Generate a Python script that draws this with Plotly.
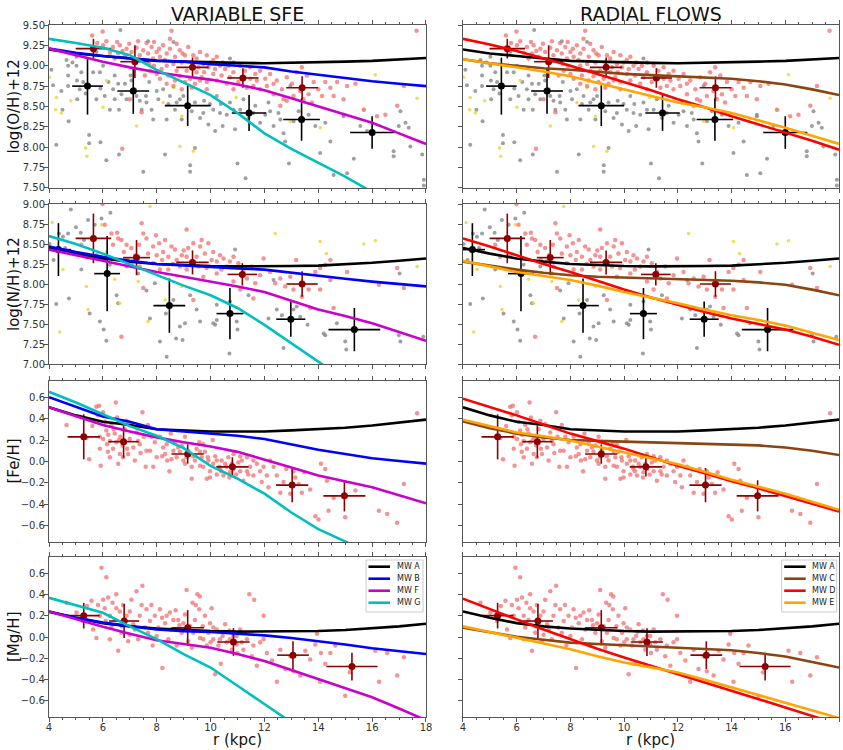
import plotly.graph_objects as go

# ---------------- model radii ----------------
R_MODEL = [4, 5, 6, 7, 8, 9, 10, 11, 12, 13, 14, 15, 16, 17, 18]
R_G_OH = [4, 5, 6, 7, 8, 9, 10, 11, 12, 13, 14, 15, 16]
R_G_NH = [4, 5, 6, 7, 8, 9, 10, 11, 12, 13, 14, 15]
R_G_FE = [4, 5, 6, 7, 8, 9, 10, 11, 12, 13, 14, 15, 16]
R_G_MG = [4, 5, 6, 7, 8, 9, 10, 11, 12, 13]

# ---------------- O/H models ----------------
oh_A = [9.20, 9.15, 9.12, 9.09, 9.06, 9.05, 9.04, 9.035, 9.03, 9.035, 9.045, 9.05, 9.06, 9.08, 9.095]
oh_B = [9.21, 9.16, 9.12, 9.09, 9.065, 9.05, 9.02, 9.00, 8.98, 8.93, 8.89, 8.85, 8.81, 8.78, 8.75]
oh_F = [9.21, 9.13, 9.05, 8.98, 8.92, 8.87, 8.83, 8.77, 8.70, 8.60, 8.50, 8.40, 8.30, 8.17, 8.04]
oh_G = [9.33, 9.28, 9.22, 9.13, 8.95, 8.80, 8.64, 8.42, 8.17, 7.98, 7.81, 7.64, 7.45]
oh_C = [9.08, 9.03, 9.00, 8.97, 8.95, 8.925, 8.90, 8.885, 8.87, 8.855, 8.84, 8.81, 8.77, 8.71, 8.64]
oh_D = [9.33, 9.26, 9.18, 9.09, 9.00, 8.90, 8.80, 8.70, 8.59, 8.49, 8.38, 8.28, 8.18, 8.08, 7.97]
oh_E = [9.08, 9.03, 8.98, 8.93, 8.87, 8.79, 8.71, 8.63, 8.55, 8.49, 8.42, 8.33, 8.24, 8.14, 8.04]

# ---------------- N/H models ----------------
nh_A = [8.45, 8.38, 8.32, 8.28, 8.25, 8.235, 8.225, 8.22, 8.22, 8.225, 8.23, 8.245, 8.265, 8.29, 8.32]
nh_B = [8.47, 8.40, 8.34, 8.29, 8.25, 8.23, 8.21, 8.195, 8.18, 8.14, 8.10, 8.065, 8.03, 8.00, 7.97]
nh_F = [8.43, 8.36, 8.29, 8.22, 8.15, 8.09, 8.03, 7.97, 7.90, 7.79, 7.68, 7.60, 7.51, 7.40, 7.29]
nh_G = [8.60, 8.50, 8.38, 8.25, 8.11, 7.98, 7.86, 7.70, 7.49, 7.26, 7.03, 6.80]
nh_C = [8.28, 8.23, 8.18, 8.14, 8.11, 8.09, 8.08, 8.07, 8.06, 8.05, 8.04, 8.02, 7.99, 7.93, 7.86]
nh_D = [8.57, 8.47, 8.36, 8.25, 8.15, 8.04, 7.93, 7.83, 7.74, 7.65, 7.57, 7.50, 7.43, 7.34, 7.24]
nh_E = [8.29, 8.22, 8.15, 8.10, 8.05, 7.98, 7.90, 7.83, 7.76, 7.68, 7.61, 7.55, 7.48, 7.39, 7.30]

# ---------------- Fe/H models ----------------
fe_A = [0.505, 0.43, 0.37, 0.34, 0.30, 0.29, 0.28, 0.28, 0.28, 0.29, 0.30, 0.315, 0.335, 0.36, 0.39]
fe_B = [0.60, 0.51, 0.42, 0.37, 0.30, 0.28, 0.26, 0.24, 0.21, 0.16, 0.11, 0.07, 0.03, 0.005, -0.02]
fe_F = [0.505, 0.42, 0.34, 0.28, 0.225, 0.18, 0.14, 0.09, 0.02, -0.055, -0.13, -0.185, -0.24, -0.315, -0.39]
fe_G = [0.65, 0.55, 0.44, 0.33, 0.24, 0.125, -0.04, -0.16, -0.30, -0.475, -0.63, -0.75, -0.86]
fe_C = [0.375, 0.31, 0.26, 0.225, 0.20, 0.19, 0.185, 0.178, 0.17, 0.165, 0.16, 0.15, 0.13, 0.10, 0.06]
fe_D = [0.585, 0.51, 0.43, 0.345, 0.26, 0.19, 0.12, 0.04, -0.04, -0.11, -0.185, -0.25, -0.32, -0.39, -0.465]
fe_E = [0.39, 0.33, 0.27, 0.235, 0.195, 0.14, 0.085, 0.03, -0.025, -0.095, -0.17, -0.235, -0.30, -0.375, -0.45]

# ---------------- Mg/H models ----------------
mg_A = [0.24, 0.18, 0.13, 0.10, 0.08, 0.065, 0.056, 0.05, 0.05, 0.052, 0.056, 0.066, 0.08, 0.10, 0.125]
mg_B = [0.235, 0.18, 0.135, 0.10, 0.07, 0.055, 0.047, 0.03, 0.015, -0.01, -0.037, -0.07, -0.105, -0.135, -0.16]
mg_F = [0.24, 0.165, 0.095, 0.03, -0.03, -0.065, -0.10, -0.16, -0.225, -0.31, -0.395, -0.48, -0.565, -0.67, -0.78]
mg_G = [0.367, 0.30, 0.227, 0.10, -0.02, -0.16, -0.286, -0.457, -0.628, -0.80]
mg_C = [0.087, 0.045, 0.003, -0.025, -0.053, -0.065, -0.078, -0.09, -0.10, -0.112, -0.124, -0.15, -0.183, -0.235, -0.286]
mg_D = [0.36, 0.26, 0.165, 0.07, -0.022, -0.11, -0.193, -0.27, -0.348, -0.426, -0.504, -0.582, -0.66, -0.74, -0.82]
mg_E = [0.10, 0.047, -0.006, -0.06, -0.115, -0.18, -0.24, -0.285, -0.333, -0.40, -0.473, -0.54, -0.613, -0.685, -0.76]

# ---------------- binned data (stars: dark red, HII: black) ----------------
oh_bin_star_r = [5.65, 7.19, 9.33, 11.2, 13.4]
oh_bin_star_v = [9.21, 9.05, 8.98, 8.85, 8.73]
oh_bin_star_ex = [0.66, 0.54, 0.60, 0.58, 0.59]
oh_bin_star_ey = [0.12, 0.20, 0.12, 0.12, 0.14]
oh_bin_hii_r = [5.43, 7.13, 9.15, 11.43, 13.38, 16.0]
oh_bin_hii_v = [8.75, 8.69, 8.51, 8.42, 8.34, 8.18]
oh_bin_hii_ex = [0.57, 0.59, 0.85, 0.64, 0.68, 0.82]
oh_bin_hii_ey = [0.35, 0.28, 0.25, 0.22, 0.26, 0.20]

nh_bin_star_r = [5.65, 7.25, 9.33, 11.18, 13.4]
nh_bin_star_v = [8.57, 8.33, 8.27, 8.12, 8.00]
nh_bin_star_ex = [0.66, 0.50, 0.60, 0.55, 0.58]
nh_bin_star_ey = [0.31, 0.22, 0.15, 0.14, 0.16]
nh_bin_hii_r = [4.35, 6.16, 8.47, 10.72, 12.98, 15.34]
nh_bin_hii_v = [8.43, 8.13, 7.73, 7.63, 7.56, 7.43]
nh_bin_hii_ex = [0.47, 0.48, 0.59, 0.50, 0.54, 0.96]
nh_bin_hii_ey = [0.33, 0.47, 0.34, 0.32, 0.22, 0.27]

fe_bin_r = [5.29, 6.77, 9.15, 10.81, 13.03, 14.97]
fe_bin_v = [0.23, 0.185, 0.07, -0.05, -0.22, -0.32]
fe_bin_ex = [0.60, 0.56, 0.60, 0.60, 0.60, 0.78]
fe_bin_ey = [0.21, 0.15, 0.09, 0.09, 0.16, 0.145]

mg_bin_r = [5.29, 6.79, 9.15, 10.85, 13.06, 15.25]
mg_bin_v = [0.20, 0.15, 0.087, -0.047, -0.17, -0.277]
mg_bin_ex = [0.59, 0.56, 0.60, 0.60, 0.59, 0.95]
mg_bin_ey = [0.12, 0.16, 0.165, 0.13, 0.13, 0.13]

# ---------------- individual data points (r, value) ----------------
oh_stars = [
    (5.60, 9.37), (5.99, 9.42), (6.13, 9.30), (5.79, 9.28), (6.01, 9.25), (6.38, 9.23), (6.53, 9.29),
    (6.73, 9.18), (6.57, 9.15), (6.88, 9.21), (7.06, 9.17), (7.25, 9.22), (7.37, 9.13), (6.82, 9.11),
    (6.44, 9.09), (6.26, 9.16), (7.62, 9.28), (7.81, 9.23), (8.00, 9.17), (7.68, 9.15), (7.50, 9.07),
    (7.87, 9.09), (8.12, 9.11), (8.37, 9.15), (8.55, 9.43), (8.24, 9.25), (8.49, 9.21), (8.68, 9.11),
    (8.86, 9.19), (9.05, 9.13), (8.93, 9.04), (8.62, 9.02), (8.37, 9.00), (8.18, 8.96), (8.00, 8.90),
    (7.75, 8.94), (7.56, 8.88), (8.12, 8.84), (8.43, 8.88), (8.74, 8.94), (9.11, 8.94), (9.30, 9.04),
    (9.48, 9.09), (9.61, 9.17), (9.86, 9.13), (9.73, 9.02), (9.92, 8.98), (10.10, 9.07), (10.23, 9.11),
    (10.35, 9.00), (9.48, 8.92), (9.67, 8.86), (9.86, 8.80), (10.10, 8.90), (10.23, 8.82), (10.41, 8.88),
    (10.54, 8.96), (10.72, 8.86), (10.85, 8.92), (10.60, 8.78), (9.24, 8.84), (9.05, 8.80), (8.86, 8.87),
    (8.62, 8.75), (8.37, 8.78), (9.42, 8.78), (9.86, 8.71), (11.10, 9.00), (11.28, 8.94), (11.47, 8.98),
    (11.66, 8.90), (11.84, 8.94), (12.03, 8.84), (12.21, 8.90), (12.46, 8.82), (11.03, 8.80), (11.35, 8.73),
    (11.59, 8.75), (11.84, 8.71), (12.09, 8.75), (12.34, 8.65), (12.65, 8.71), (12.83, 8.86), (13.02, 8.78),
    (13.20, 8.92), (13.39, 8.98), (13.58, 8.88), (13.83, 8.80), (14.00, 8.71), (14.14, 8.63), (13.08, 8.63),
    (13.45, 8.59), (13.76, 8.55), (12.83, 8.57), (12.59, 8.51), (14.26, 8.80), (14.45, 8.73), (14.70, 8.80),
    (15.07, 8.75), (15.38, 8.78), (14.94, 8.59), (15.69, 8.46), (16.18, 8.38), (16.49, 8.40), (16.93, 8.51),
    (17.18, 8.75), (17.65, 9.43), (7.44, 8.43), (6.72, 7.98), (7.00, 8.59), (10.85, 9.04), (14.57, 8.63),
    (6.63, 9.25), (6.98, 9.27), (7.31, 9.30), (7.50, 9.19), (7.90, 9.29), (8.09, 9.21), (8.30, 9.07),
    (8.49, 9.33), (8.74, 9.27), (8.96, 9.15), (9.17, 9.23), (9.36, 9.13), (9.55, 8.98), (9.76, 8.92),
    (9.98, 9.04), (10.17, 8.96), (10.45, 9.04), (10.66, 9.00), (7.90, 9.00), (7.72, 9.02), (8.68, 8.82),
    (8.93, 8.71), (9.61, 8.82), (9.30, 8.73), (10.85, 8.71), (11.16, 8.84), (11.47, 8.84), (11.72, 8.82),
    (12.34, 8.78), (12.71, 8.59), (13.33, 8.69), (13.64, 8.65),
]
oh_hii = [
    (4.09, 8.95), (4.15, 8.76), (4.27, 8.03), (4.46, 8.69), (4.50, 8.46), (4.65, 9.07), (4.71, 9.00),
    (4.71, 8.88), (4.71, 8.75), (4.73, 8.32), (4.87, 9.04), (5.02, 9.00), (5.04, 8.82), (5.05, 8.59),
    (5.20, 8.92), (5.27, 8.80), (5.36, 8.66), (5.49, 8.15), (5.49, 8.05), (5.76, 9.17), (5.89, 8.92),
    (5.91, 8.72), (5.91, 8.06), (6.01, 9.00), (6.13, 7.84), (6.21, 8.80), (6.26, 8.46), (6.44, 8.88),
    (6.44, 8.59), (6.57, 8.78), (6.60, 8.46), (6.60, 7.91), (6.65, 9.44), (6.82, 8.78), (6.88, 8.59),
    (7.03, 8.88), (7.19, 8.71), (7.37, 8.57), (7.44, 8.46), (7.50, 7.70), (7.60, 8.63), (7.68, 9.30),
    (7.72, 8.80), (7.81, 8.46), (7.87, 8.34), (8.06, 8.59), (8.24, 8.71), (8.31, 7.91), (8.37, 8.34),
    (8.49, 8.63), (8.62, 9.29), (8.68, 8.46), (8.74, 8.55), (8.93, 8.34), (8.99, 8.63), (9.24, 7.78),
    (9.24, 7.70), (9.42, 8.55), (9.42, 7.99), (9.61, 8.36), (9.76, 8.57), (9.92, 8.28), (10.10, 8.46),
    (10.23, 8.63), (10.38, 8.53), (10.45, 8.26), (10.60, 8.40), (10.72, 9.09), (10.85, 8.46), (10.91, 8.22),
    (11.00, 7.80), (11.22, 8.59), (11.30, 7.62), (11.41, 8.36), (11.66, 8.51), (11.84, 8.30), (12.03, 8.40),
    (12.15, 8.55), (12.34, 8.26), (12.52, 8.42), (12.71, 8.17), (12.77, 8.07), (12.91, 7.80), (13.08, 8.32),
    (13.27, 8.44), (13.64, 8.40), (13.89, 8.26), (14.07, 7.93), (14.26, 8.30), (14.45, 8.07), (14.57, 7.66),
    (14.94, 8.38), (15.07, 7.68), (15.32, 7.86), (15.56, 8.26), (15.81, 8.20), (16.80, 7.95), (16.80, 7.89),
    (16.99, 8.26), (17.05, 8.44), (17.24, 8.30), (17.42, 8.01), (17.86, 7.91), (17.92, 7.60), (17.92, 7.53),
    (17.36, 8.24), (12.96, 8.75), (14.94, 8.40), (5.02, 9.11), (5.14, 8.71), (5.64, 8.92), (5.76, 8.59),
    (6.07, 8.63), (6.38, 8.71), (6.69, 8.65), (7.06, 8.82), (7.25, 8.63), (7.62, 8.55), (8.00, 8.69),
    (8.43, 8.53), (8.86, 8.59), (9.30, 8.44), (9.73, 8.42), (9.98, 8.53), (10.35, 8.42), (10.72, 8.55),
    (11.10, 8.46), (11.59, 8.42), (12.21, 8.44), (12.59, 8.34), (10.17, 8.20),
]
oh_other = [
    (4.02, 8.86), (4.27, 8.61), (4.25, 8.46), (4.46, 8.42), (4.81, 8.57), (5.36, 7.99), (5.41, 7.89),
    (6.01, 8.49), (6.13, 8.82), (7.25, 8.26), (8.62, 8.73), (8.86, 8.01), (8.93, 8.38), (9.36, 7.95),
    (10.95, 8.61), (12.96, 8.32), (14.07, 8.24), (15.69, 8.46), (16.12, 8.89), (17.67, 8.60), (8.24, 8.55),
]

nh_stars = [
    (5.99, 9.00), (6.07, 8.74), (6.32, 8.63), (6.53, 8.64), (6.57, 8.57), (6.38, 8.49), (6.69, 8.55),
    (6.88, 8.49), (6.78, 8.40), (7.06, 8.45), (7.44, 8.76), (7.50, 8.63), (7.35, 8.49), (7.62, 8.57),
    (7.68, 8.38), (7.87, 8.47), (7.97, 8.61), (8.09, 8.51), (8.24, 8.40), (8.31, 8.55), (8.43, 8.34),
    (8.55, 8.47), (8.68, 8.43), (8.74, 8.30), (8.93, 8.36), (9.11, 8.68), (9.11, 8.34), (9.17, 8.45),
    (9.36, 8.51), (9.48, 8.34), (9.61, 8.47), (9.67, 8.55), (9.79, 8.38), (9.92, 8.51), (10.04, 8.30),
    (10.10, 8.40), (10.23, 8.28), (10.35, 8.36), (10.48, 8.32), (10.60, 8.22), (10.72, 8.28), (10.85, 8.34),
    (11.03, 8.26), (11.22, 8.15), (11.35, 8.07), (11.53, 8.22), (11.66, 8.01), (11.84, 8.11), (11.97, 8.32),
    (12.21, 8.15), (12.40, 8.01), (12.59, 8.07), (12.77, 7.97), (12.96, 8.09), (13.18, 8.30), (13.08, 7.93),
    (13.39, 7.84), (13.64, 7.93), (13.70, 7.70), (13.89, 8.15), (14.07, 8.20), (14.26, 8.24), (14.45, 8.30),
    (14.45, 8.05), (14.07, 7.93), (14.57, 7.70), (15.07, 8.15), (16.93, 8.20), (17.18, 7.95), (16.25, 7.99),
    (6.69, 7.34), (5.76, 8.36), (5.39, 8.34), (5.20, 8.49), (7.50, 7.95), (7.87, 8.26), (8.12, 8.18),
    (8.86, 8.22), (9.36, 7.80), (9.73, 8.09), (10.23, 8.13), (10.85, 8.03), (11.10, 7.93), (11.59, 7.82),
    (9.11, 8.18), (9.55, 8.22), (7.10, 8.28), (7.37, 8.22), (8.43, 8.18), (8.00, 8.36), (8.60, 8.25),
    (9.00, 8.42), (9.30, 8.28), (9.85, 8.20), (10.40, 8.18), (7.20, 8.36), (6.90, 8.30), (8.20, 8.30),
]
nh_hii = [
    (4.02, 8.50), (4.17, 8.30), (4.27, 7.75), (4.37, 8.63), (4.52, 8.59), (4.71, 8.63), (4.81, 8.93),
    (4.74, 7.82), (5.00, 8.71), (5.18, 8.64), (5.20, 8.18), (5.45, 8.80), (5.51, 7.63), (5.70, 8.74),
    (5.89, 7.53), (5.95, 8.82), (6.03, 7.43), (6.13, 7.29), (6.28, 8.89), (6.26, 8.24), (6.51, 7.86),
    (6.57, 7.76), (6.88, 8.22), (7.31, 8.13), (7.62, 7.92), (7.75, 7.57), (7.93, 8.01), (8.34, 7.63),
    (8.37, 7.09), (8.62, 7.80), (8.72, 7.32), (8.86, 7.47), (8.96, 7.30), (9.05, 7.51), (9.24, 7.86),
    (9.48, 7.68), (10.10, 7.51), (10.17, 7.49), (10.23, 7.55), (10.23, 7.74), (10.70, 7.13), (10.91, 8.43),
    (10.97, 7.53), (11.00, 7.43), (11.41, 7.86), (12.15, 7.57), (12.34, 8.05), (12.46, 7.68), (12.65, 7.61),
    (12.71, 7.20), (13.08, 7.68), (13.20, 7.72), (13.33, 7.59), (13.60, 7.49), (14.20, 7.38), (14.26, 7.36),
    (15.00, 7.28), (15.04, 7.18), (14.69, 7.51), (16.99, 7.36), (17.05, 7.28), (17.02, 8.13), (17.90, 7.34),
    (8.12, 7.28), (10.72, 7.78), (9.61, 7.53), (4.60, 8.45), (5.30, 8.55),
]
nh_other = [
    (4.12, 8.77), (4.40, 7.40), (4.52, 8.18), (5.39, 7.97), (5.45, 7.68), (5.95, 8.74), (6.13, 8.40),
    (6.44, 8.06), (6.63, 7.76), (7.31, 8.03), (7.68, 7.53), (7.75, 8.97), (8.31, 7.80), (12.40, 8.63),
    (14.07, 8.53), (15.69, 8.50), (16.12, 8.54), (14.30, 8.38), (17.67, 8.22), (8.93, 7.97),
]

fe_stars = [
    (4.65, 0.34), (5.39, 0.22), (5.49, 0.02), (5.61, 0.33), (5.76, 0.51), (5.86, 0.52), (5.82, 0.43),
    (5.89, 0.23), (5.92, -0.04), (6.01, 0.46), (6.07, 0.37), (6.13, 0.29), (6.16, 0.16), (6.26, 0.19),
    (6.32, 0.34), (6.26, 0.04), (6.38, 0.12), (6.44, 0.26), (6.48, 0.55), (6.53, 0.41), (6.57, -0.02),
    (6.63, 0.07), (6.65, 0.23), (6.73, 0.15), (6.82, 0.30), (6.88, 0.38), (6.94, 0.07), (7.00, 0.21),
    (7.06, 0.35), (7.13, 0.13), (7.19, 0.01), (7.25, 0.27), (7.37, 0.16), (7.47, 0.46), (7.52, 0.23),
    (7.59, -0.05), (7.68, 0.34), (7.75, 0.10), (7.87, -0.05), (7.93, 0.18), (8.00, 0.04), (8.12, 0.23),
    (8.24, 0.13), (8.31, 0.07), (8.39, 0.01), (8.47, -0.09), (8.52, 0.26), (8.62, 0.10), (8.68, 0.18),
    (8.74, 0.04), (8.86, 0.09), (8.93, 0.15), (8.99, 0.01), (9.05, 0.23), (9.11, 0.04), (9.17, 0.10),
    (9.30, -0.16), (9.36, 0.05), (9.42, 0.01), (9.48, 0.12), (9.58, 0.18), (9.67, 0.04), (9.73, -0.05),
    (9.79, 0.09), (9.86, -0.16), (9.92, 0.01), (9.98, -0.09), (10.08, 0.20), (10.10, -0.02), (10.17, 0.05),
    (10.23, -0.12), (10.33, -0.05), (10.41, 0.01), (10.48, -0.13), (10.60, -0.05), (10.66, 0.04),
    (10.72, -0.10), (10.85, 0.07), (10.95, -0.12), (11.03, -0.01), (11.10, -0.09), (11.22, -0.18),
    (11.35, 0.04), (11.47, -0.05), (11.59, 0.01), (11.72, -0.02), (11.84, -0.09), (11.90, -0.19),
    (12.09, -0.13), (12.15, -0.24), (12.21, 0.01), (12.46, -0.13), (12.59, -0.29), (12.71, -0.19),
    (12.81, -0.07), (12.96, -0.30), (13.14, -0.15), (13.27, -0.21), (13.39, -0.29), (13.48, -0.10),
    (13.70, -0.26), (13.89, -0.51), (14.01, -0.54), (14.10, -0.02), (14.26, -0.07), (14.32, -0.18),
    (14.38, -0.46), (14.57, -0.34), (15.00, -0.52), (15.38, -0.27), (16.25, -0.46), (16.56, -0.49),
    (16.93, -0.57), (17.18, -0.21), (17.67, 0.45), (9.30, -0.05), (9.61, -0.04), (9.98, -0.15),
    (10.35, -0.07), (10.79, -0.02), (11.16, 0.01), (11.35, -0.09), (5.89, 0.12), (6.01, 0.21),
    (6.19, 0.09), (6.50, 0.18), (6.75, 0.04), (7.31, 0.19), (7.62, 0.10), (7.81, 0.23), (8.37, 0.16),
    (8.80, 0.13), (9.05, -0.02), (9.61, 0.09), (9.73, 0.16), (10.23, 0.01), (10.54, -0.02), (10.85, -0.07),
    (11.10, 0.05), (11.59, -0.13), (11.97, -0.05), (12.34, -0.05), (13.08, -0.09), (6.20, 0.25),
    (6.40, 0.30), (6.60, 0.20), (6.90, 0.12), (7.40, 0.08), (8.20, 0.05), (8.55, 0.02), (9.20, 0.06),
    (9.90, 0.04), (10.40, -0.09), (10.70, -0.15), (11.40, -0.12),
]
mg_stars = [
    (4.65, 0.32), (5.02, 0.23), (5.41, 0.29), (5.58, 0.34), (5.82, 0.30), (5.89, 0.20), (5.95, 0.65),
    (6.01, 0.35), (6.07, 0.27), (6.13, 0.56), (6.20, 0.37), (6.26, 0.20), (6.32, 0.09), (6.36, 0.32),
    (6.44, 0.16), (6.50, 0.40), (6.57, -0.13), (6.63, 0.24), (6.69, 0.04), (6.75, 0.30), (6.85, 0.15),
    (6.94, -0.04), (7.00, 0.24), (7.06, 0.35), (7.13, 0.12), (7.25, 0.43), (7.31, -0.02), (7.37, 0.20),
    (7.44, 0.30), (7.47, 0.48), (7.56, 0.09), (7.62, 0.26), (7.75, 0.15), (7.85, -0.08), (7.93, 0.20),
    (8.06, 0.09), (8.12, 0.26), (8.21, -0.29), (8.31, 0.13), (8.43, -0.02), (8.49, 0.23), (8.55, 0.07),
    (8.62, 0.16), (8.74, -0.08), (8.84, 0.11), (8.93, 0.04), (9.05, 0.21), (9.11, 0.44), (9.17, -0.04),
    (9.24, 0.10), (9.33, 0.32), (9.42, 0.16), (9.51, 0.40), (9.58, 0.26), (9.61, -0.01), (9.71, 0.10),
    (9.79, 0.20), (9.86, -0.08), (9.92, 0.04), (9.98, 0.13), (10.04, 0.27), (10.10, -0.02), (10.17, -0.35),
    (10.23, 0.07), (10.29, -0.08), (10.38, -0.25), (10.45, 0.01), (10.54, 0.12), (10.60, -0.05),
    (10.70, 0.06), (10.79, -0.12), (10.85, 0.01), (10.97, -0.07), (11.10, 0.07), (11.22, -0.12),
    (11.35, -0.02), (11.44, 0.40), (11.53, -0.18), (11.62, 0.35), (11.72, -0.27), (11.84, -0.05),
    (11.97, 0.20), (12.09, -0.15), (12.28, -0.22), (12.46, -0.42), (12.59, -0.12), (12.77, -0.30),
    (12.96, -0.18), (13.08, -0.32), (13.33, -0.36), (13.52, -0.13), (13.70, -0.21), (13.89, -0.07),
    (13.95, 0.03), (14.10, -0.15), (14.26, -0.25), (14.07, -0.42), (15.00, -0.55), (15.17, -0.33),
    (16.12, -0.13), (16.56, -0.15), (16.93, -0.36), (17.18, -0.19), (16.26, -0.42), (14.45, -0.15),
    (14.63, -0.08), (6.26, -0.02), (6.50, 0.27), (6.88, 0.20), (7.19, 0.07), (7.68, 0.04), (8.00, 0.01),
    (8.37, 0.20), (8.80, 0.16), (8.99, 0.13), (9.36, 0.04), (9.73, -0.02), (10.10, 0.09), (10.35, -0.02),
    (10.72, -0.02), (10.97, 0.01), (11.16, -0.05), (11.59, -0.08), (11.97, -0.02), (5.64, 0.07),
    (5.27, 0.15), (5.76, -0.01), (6.10, 0.15), (6.70, 0.10), (7.00, 0.02), (7.80, 0.30), (8.20, 0.18),
    (8.70, 0.25), (9.30, -0.10), (9.60, 0.38), (9.45, 0.30), (10.00, -0.05), (10.50, 0.05), (11.00, -0.15),
]

# legend entries
legend_left = ["MW A", "MW B", "MW F", "MW G"]
legend_right = ["MW A", "MW C", "MW D", "MW E"]

# ---------------- styles ----------------
C_STAR = "rgba(240,105,105,0.72)"
C_HII = "rgba(135,135,135,0.8)"
C_OTHER = "rgba(240,215,70,0.9)"
C_BIN_STAR = "#8b0000"
C_BIN_HII = "#000000"
LINE_COLORS = {"MW A": "#000000", "MW B": "#0000ff", "MW F": "#cc00cc", "MW G": "#00bfbf",
               "MW C": "#8b4513", "MW D": "#ff0000", "MW E": "#ffa500"}
FONT = "DejaVu Sans"

fig = go.Figure()

# layout geometry (paper coordinates); plot area: x 49..839 px, y 25..717 px
L, R, T, B = 49, 839, 25, 717
W, H = R - L, B - T


def px_x(px):
    return (px - L) / W


def px_y(py):
    return (B - py) / H


XDOM = [[0.0, 0.4772], [0.524, 1.0]]
YDOM = [[0.7645, 1.0], [0.5101, 0.7413], [0.2529, 0.4855], [0.0, 0.2312]]


def axname(row, col):
    n = (row - 1) * 2 + col
    return ("x" if n == 1 else f"x{n}"), ("y" if n == 1 else f"y{n}")


def add_points(row, col, pts, color, size):
    xa, ya = axname(row, col)
    r = [p[0] for p in pts]
    v = [p[1] for p in pts]
    fig.add_trace(go.Scatter(x=r, y=v, mode="markers", xaxis=xa, yaxis=ya, showlegend=False,
                             marker=dict(color=color, size=size, line=dict(width=0)), hoverinfo="skip"))


def add_bins(row, col, r, v, ex, ey, color):
    xa, ya = axname(row, col)
    fig.add_trace(go.Scatter(x=r, y=v, mode="markers", xaxis=xa, yaxis=ya, showlegend=False,
                             marker=dict(color=color, size=7),
                             error_x=dict(type="data", array=ex, color=color, thickness=1.6, width=0),
                             error_y=dict(type="data", array=ey, color=color, thickness=1.6, width=0)))


def add_line(row, col, r, v, name):
    xa, ya = axname(row, col)
    fig.add_trace(go.Scatter(x=r, y=v, mode="lines", xaxis=xa, yaxis=ya, name=name,
                             line=dict(color=LINE_COLORS[name], width=2.6), showlegend=False))


panels = [
    dict(stars=oh_stars, hii=oh_hii, other=oh_other,
         bs=(oh_bin_star_r, oh_bin_star_v, oh_bin_star_ex, oh_bin_star_ey),
         bh=(oh_bin_hii_r, oh_bin_hii_v, oh_bin_hii_ex, oh_bin_hii_ey),
         left=[(R_MODEL, oh_A, "MW A"), (R_MODEL, oh_B, "MW B"), (R_MODEL, oh_F, "MW F"), (R_G_OH, oh_G, "MW G")],
         right=[(R_MODEL, oh_A, "MW A"), (R_MODEL, oh_C, "MW C"), (R_MODEL, oh_D, "MW D"), (R_MODEL, oh_E, "MW E")]),
    dict(stars=nh_stars, hii=nh_hii, other=nh_other,
         bs=(nh_bin_star_r, nh_bin_star_v, nh_bin_star_ex, nh_bin_star_ey),
         bh=(nh_bin_hii_r, nh_bin_hii_v, nh_bin_hii_ex, nh_bin_hii_ey),
         left=[(R_MODEL, nh_A, "MW A"), (R_MODEL, nh_B, "MW B"), (R_MODEL, nh_F, "MW F"), (R_G_NH, nh_G, "MW G")],
         right=[(R_MODEL, nh_A, "MW A"), (R_MODEL, nh_C, "MW C"), (R_MODEL, nh_D, "MW D"), (R_MODEL, nh_E, "MW E")]),
    dict(stars=fe_stars, hii=None, other=None,
         bs=(fe_bin_r, fe_bin_v, fe_bin_ex, fe_bin_ey), bh=None,
         left=[(R_MODEL, fe_A, "MW A"), (R_MODEL, fe_B, "MW B"), (R_MODEL, fe_F, "MW F"), (R_G_FE, fe_G, "MW G")],
         right=[(R_MODEL, fe_A, "MW A"), (R_MODEL, fe_C, "MW C"), (R_MODEL, fe_D, "MW D"), (R_MODEL, fe_E, "MW E")]),
    dict(stars=mg_stars, hii=None, other=None,
         bs=(mg_bin_r, mg_bin_v, mg_bin_ex, mg_bin_ey), bh=None,
         left=[(R_MODEL, mg_A, "MW A"), (R_MODEL, mg_B, "MW B"), (R_MODEL, mg_F, "MW F"), (R_G_MG, mg_G, "MW G")],
         right=[(R_MODEL, mg_A, "MW A"), (R_MODEL, mg_C, "MW C"), (R_MODEL, mg_D, "MW D"), (R_MODEL, mg_E, "MW E")]),
]

for i, p in enumerate(panels):
    row = i + 1
    for col in (1, 2):
        if p["hii"]:
            add_points(row, col, p["hii"], C_HII, 4)
        if p["other"]:
            add_points(row, col, p["other"], C_OTHER, 3.5)
        add_points(row, col, p["stars"], C_STAR, 4.5)
        if p["bh"]:
            add_bins(row, col, *p["bh"], C_BIN_HII)
        add_bins(row, col, *p["bs"], C_BIN_STAR)
        models = p["left"] if col == 1 else p["right"]
        for r, v, name in models:
            add_line(row, col, r, v, name)

# ---------------- axes ----------------
yranges = [[7.5, 9.5], [7.0, 9.0], [-0.75, 0.75], [-0.75, 0.75]]
ytickvals = [[7.5, 7.75, 8.0, 8.25, 8.5, 8.75, 9.0, 9.25, 9.5],
             [7.0, 7.25, 7.5, 7.75, 8.0, 8.25, 8.5, 8.75, 9.0],
             [-0.6, -0.4, -0.2, 0.0, 0.2, 0.4, 0.6],
             [-0.6, -0.4, -0.2, 0.0, 0.2, 0.4, 0.6]]
yfmt = [".2f", ".2f", ".1f", ".1f"]
AXC = "#555555"
tickfont = dict(family=FONT, size=10, color="#333333")
layout_axes = {}
for row in range(1, 5):
    for col in (1, 2):
        n = (row - 1) * 2 + col
        xk = "xaxis" if n == 1 else f"xaxis{n}"
        yk = "yaxis" if n == 1 else f"yaxis{n}"
        xa, ya = axname(row, col)
        layout_axes[xk] = dict(domain=XDOM[col - 1], anchor=ya, range=[4, 18],
                               tickvals=[4, 6, 8, 10, 12, 14, 16, 18], showticklabels=(row == 4),
                               ticks="outside", ticklen=4, tickwidth=1, tickcolor=AXC,
                               minor=dict(dtick=0.5, ticks="outside", ticklen=2, tickcolor=AXC),
                               showline=True, linecolor=AXC, linewidth=1, mirror="allticks",
                               showgrid=False, zeroline=False, tickfont=tickfont, automargin=False,
                               ticklabelstandoff=-3)
        layout_axes[yk] = dict(domain=YDOM[row - 1], anchor=xa, range=yranges[row - 1],
                               tickvals=ytickvals[row - 1], tickformat=yfmt[row - 1],
                               showticklabels=(col == 1), ticks="outside", ticklen=4, tickwidth=1,
                               tickcolor=AXC, showline=True, linecolor=AXC, linewidth=1, mirror=True,
                               showgrid=False, zeroline=False, tickfont=tickfont, automargin=False,
                               ticklabelstandoff=-3)

fig.update_layout(**layout_axes)

# ---------------- annotations ----------------
ann = []
ann.append(dict(text="VARIABLE SFE", x=0.2386, y=px_y(14), xref="paper", yref="paper",
                showarrow=False, font=dict(family=FONT, size=19, color="#111"), xanchor="center", yanchor="middle"))
ann.append(dict(text="RADIAL FLOWS", x=0.762, y=px_y(14), xref="paper", yref="paper",
                showarrow=False, font=dict(family=FONT, size=19, color="#111"), xanchor="center", yanchor="middle"))
ytitles = ["log(O/H)+12", "log(N/H)+12", "[Fe/H]", "[Mg/H]"]
for i, t in enumerate(ytitles):
    d = YDOM[i]
    ann.append(dict(text=t, x=px_x(14), y=(d[0] + d[1]) / 2, xref="paper", yref="paper", textangle=-90,
                    showarrow=False, font=dict(family=FONT, size=15, color="#111"),
                    xanchor="center", yanchor="middle"))
for col in (0, 1):
    ann.append(dict(text="r (kpc)", x=(XDOM[col][0] + XDOM[col][1]) / 2, y=px_y(749.5), xref="paper",
                    yref="paper", showarrow=False, borderpad=0,
                    font=dict(family=FONT, size=15, color="#111"),
                    xanchor="center", yanchor="bottom"))

# ---------------- compact legends drawn as shapes + text ----------------
shapes = []
entry_y = [566.7, 578.7, 590.7, 602.7]
for box_left, box_right, names in [(366, 423, legend_left), (781.7, 836.7, legend_right)]:
    shapes.append(dict(type="rect", xref="paper", yref="paper", x0=px_x(box_left), x1=px_x(box_right),
                       y0=px_y(612), y1=px_y(560), line=dict(color="#cccccc", width=1), fillcolor="white",
                       layer="above"))
    for name, ey in zip(names, entry_y):
        shapes.append(dict(type="line", xref="paper", yref="paper", x0=px_x(box_left + 2.5),
                           x1=px_x(box_left + 24), y0=px_y(ey), y1=px_y(ey),
                           line=dict(color=LINE_COLORS[name], width=2.6), layer="above"))
        ann.append(dict(text=name, x=px_x(box_left + 28.5), y=px_y(ey), xref="paper", yref="paper",
                        showarrow=False, xanchor="left", yanchor="middle",
                        font=dict(family=FONT, size=8, color="#222")))

fig.update_layout(
    width=843, height=750,
    margin=dict(l=L, r=843 - R, t=T, b=750 - B),
    paper_bgcolor="white", plot_bgcolor="white",
    font=dict(family=FONT),
    annotations=ann,
    shapes=shapes,
    showlegend=False,
)

fig.write_html("out.html", config={"displayModeBar": False},
               post_script="document.body.style.margin='0';document.body.style.overflow='hidden';")
